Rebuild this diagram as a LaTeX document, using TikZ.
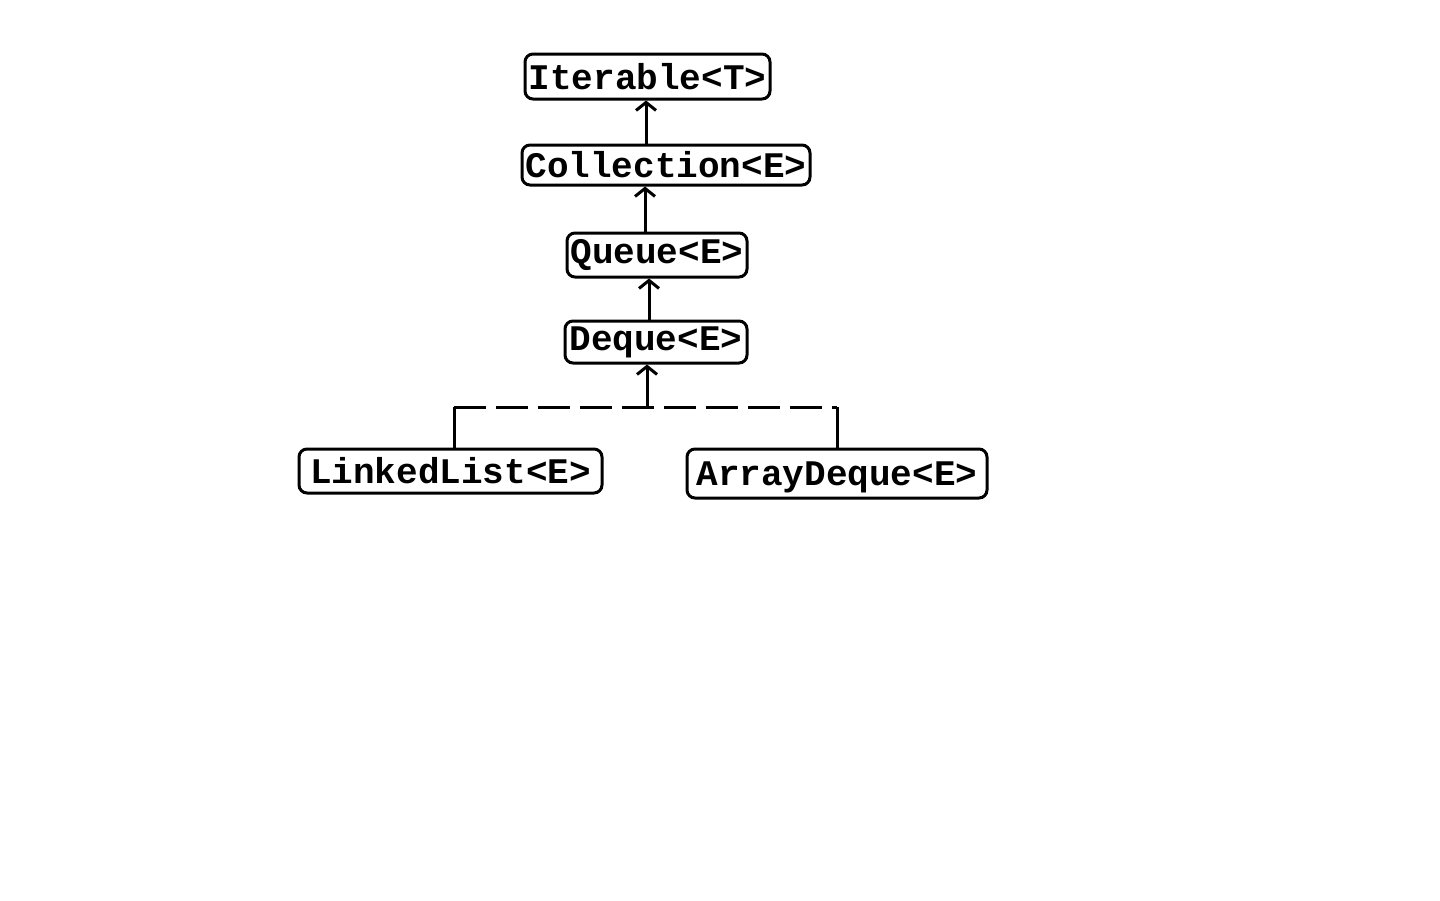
\documentclass[tikz,border=0pt]{standalone}
\usepackage{fontspec}
\setmonofont{Liberation Mono}
\usetikzlibrary{arrows.meta}
\tikzset{
  cls/.style={draw=black, line width=3pt, rounded corners=8pt, inner sep=0pt, fill=white,
    font=\fontsize{36}{40}\selectfont\ttfamily\bfseries, anchor=center},
  inh/.style={line width=3pt, -{Straight Barb[length=8pt,width=20pt,line width=3pt]}},
  impl/.style={line width=3pt, dash pattern=on 32pt off 10pt},
  implv/.style={line width=3pt},
}
\begin{document}
\begin{tikzpicture}[x=1pt,y=-1pt]
\fill[white] (0,0) rectangle (1440,900);
\useasboundingbox (0,0) rectangle (1440,900);
\node[cls, minimum width=245pt, minimum height=45pt] (it) at (647.5,76.5) {Iterable<T>};
\node[cls, minimum width=288pt, minimum height=40pt] (co) at (666,165) {Collection<E>};
\node[cls, minimum width=180pt, minimum height=44pt] (qu) at (657,255) {Queue<E>};
\node[cls, minimum width=182pt, minimum height=42pt] (de) at (656,342) {Deque<E>};
\node[cls, minimum width=303pt, minimum height=44pt] (ll) at (450.5,471) {LinkedList<E>};
\node[cls, minimum width=300pt, minimum height=49pt, text depth=0pt] (ad) at (837,473.5) {ArrayDeque<E>};
\coordinate (j) at (647,407);
\coordinate (jl) at (454,407);
\coordinate (jr) at (837,407);
\draw[implv] (ll.north -| jl) -- (jl);
\draw[implv] (ad.north) -- (jr);
\draw[impl] (jl) -- (jr);
\draw[inh] (j) -- (j |- de.south);
\draw[inh] (co.north -| 646,0) -- (646,0 |- it.south);
\draw[inh] (qu.north -| 645,0) -- (645,0 |- co.south);
\draw[inh] (de.north -| 649,0) -- (649,0 |- qu.south);
\end{tikzpicture}
\end{document}
